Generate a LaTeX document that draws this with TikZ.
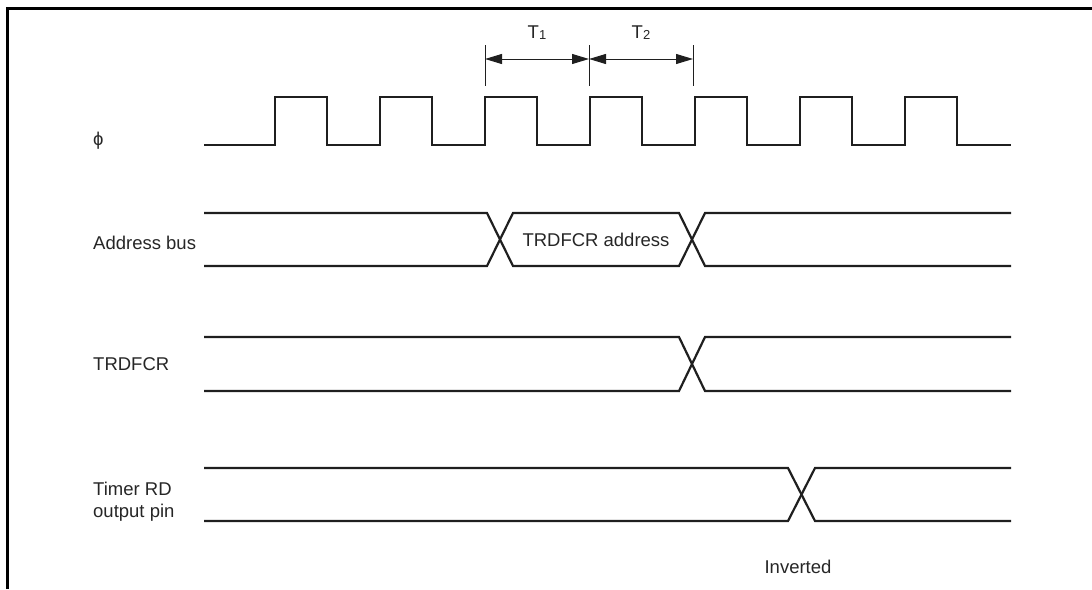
\documentclass[tikz,border=0pt]{standalone}
\usepackage{fontspec}
\setmainfont{Liberation Sans}
\usetikzlibrary{arrows.meta}
\begin{document}
\begin{tikzpicture}[x=1pt,y=-1pt,
  sig/.style={line width=2.2pt, line join=miter, draw=black!88},
  lab/.style={anchor=west, inner sep=0pt, font=\fontsize{18.5}{22}\selectfont, text=black!85},
  clab/.style={inner sep=0pt, font=\fontsize{18.5}{22}\selectfont, text=black!85},
  dimline/.style={line width=1pt, draw=black!88},
  dimarrow/.style={line width=1pt, draw=black!88, {Triangle[length=17pt,width=10pt]}-{Triangle[length=17pt,width=10pt]}}]
\useasboundingbox (0,0) rectangle (1092,589);
% frame
\draw[line width=3pt] (7,589) -- (7,8) -- (1092,8);
% labels
\node[lab] (phi) at (93,141) {ϕ};
\node[lab] (addr) at (93,243) {Address bus};
\node[lab] (trd) at (93,364) {TRDFCR};
\node[lab, align=left] (tmr) at (93,502) {Timer RD\\output pin};
\node[clab] (inv) at (798,567) {Inverted};
\node[clab] (tra) at (596,240) {TRDFCR address};
% clock
\draw[sig] (204,145) foreach \k in {0,...,6} { -- ({275+105*\k},145) -- ({275+105*\k},97) -- ({327+105*\k},97) -- ({327+105*\k},145) } -- (1011,145);
% dimension lines
\coordinate (d1t) at (485,45); \coordinate (d1b) at (485,86);
\coordinate (d2t) at (589,45); \coordinate (d2b) at (589,86);
\coordinate (d3t) at (693,45); \coordinate (d3b) at (693,86);
\draw[dimline] (d1t) -- (d1b);
\draw[dimline] (d2t) -- (d2b);
\draw[dimline] (d3t) -- (d3b);
\coordinate (a1) at (485,59); \coordinate (a2) at (589,59); \coordinate (a3) at (693,59);
\draw[dimarrow] (a1) -- (a2);
\draw[dimarrow] (a2) -- (a3);
\node[clab] (t1) at (537,33) {T\raisebox{-1pt}{\fontsize{13}{13}\selectfont 1}};
\node[clab] (t2) at (641,33) {T\raisebox{-1pt}{\fontsize{13}{13}\selectfont 2}};
% address bus
\draw[sig] (204,213) -- (487,213) -- (513,266) -- (679,266) -- (705,213) -- (1011,213);
\draw[sig] (204,266) -- (487,266) -- (513,213) -- (679,213) -- (705,266) -- (1011,266);
% TRDFCR
\draw[sig] (204,337) -- (679,337) -- (705,391) -- (1011,391);
\draw[sig] (204,391) -- (679,391) -- (705,337) -- (1011,337);
% Timer RD output pin
\draw[sig] (204,468) -- (788,468) -- (815,521) -- (1011,521);
\draw[sig] (204,521) -- (788,521) -- (815,468) -- (1011,468);
\end{tikzpicture}
\end{document}
